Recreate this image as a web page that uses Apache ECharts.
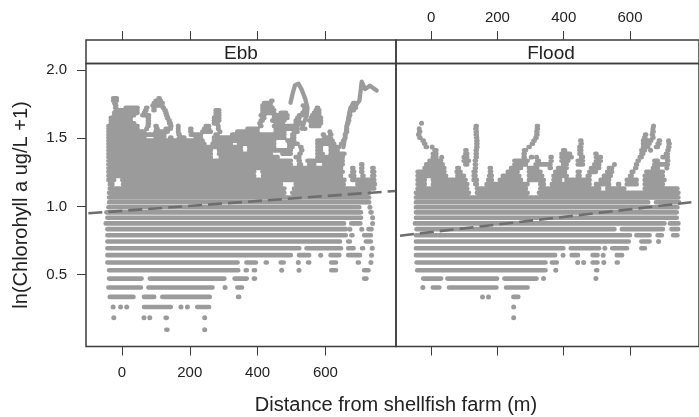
<!DOCTYPE html>
<html><head><meta charset="utf-8">
<style>html,body{margin:0;padding:0;background:#fff}#c{width:699px;height:417px}</style>
<script src="https://cdn.jsdelivr.net/npm/echarts@6/dist/echarts.min.js"></script>
</head><body><div id="c"></div>
<script>
const panels = ["Ebb", "Flood"];
const xTicks = [0, 200, 400, 600];
const yTicks = [0.5, 1.0, 1.5, 2.0];
const yTitle = "ln(Chlorohyll a ug/L +1)";
const xTitle = "Distance from shellfish farm (m)";

// each row: [level, runs of [fromX,toX] or single x readings]
const ebbRows = [
 [0.095,[128,137],244],
 [0.182,-24,65,82,[122,139],244],
 [0.262,-26,-4,14,[58,151],174,193,[215,264]],
 [0.336,[-43,41],[58,102],[112,266],[338,350]],
 [0.405,[-47,63],[71,274],304,[333,361]],
 [0.470,[-45,65],[75,309],[325,375],[382,399],[707,728]],
 [0.531,[-45,350],[358,375],[382,399],471,522,[610,638],[707,734]],
 [0.588,[-50,348],[360,402],[417,434],[461,484],520,[545,556],[610,638],[690,704],734],
 [0.642,[-50,505],[515,559],586,[608,648],[660,709],736],
 [0.693,[-50,530],[537,653],[660,690],[702,717],738],
 [0.742,[-50,650],[660,679],[712,741]],
 [0.788,[-50,667],[672,684],[707,741]],
 [0.833,[-50,667],672,707,[720,743]],
 [0.875,[-55,662],[669,710],739],
 [0.916,[-50,712],739],
 [0.956,[-53,712],[726,743]],
 [0.993,[-47,707],731],
 [1.030,[-45,736]],
 [1.065,[-45,736]],
 [1.099,[-45,486],[495,736]],
 [1.131,[-43,486],[500,751]],
 [1.163,[-43,-21],[-4,476],[505,661],[687,753]],
 [1.194,[-47,-16],[-6,663],[672,751]],
 [1.224,[-47,397],[409,653],[667,692],[704,717],[731,751]],
 [1.253,[-47,397],[407,658],[672,692],[702,712],[731,751]],
 [1.281,[-47,653],[674,687],[702,712],[731,749]],
 [1.308,[-47,505],[515,535],[545,574],[589,658],[704,710]],
 [1.335,[-47,505],[515,530],[540,658]],
 [1.361,[-47,269],[284,466],[505,530],[569,658]],
 [1.386,[-47,269],[279,446],[466,505],[520,530],[569,599],[608,663]],
 [1.411,[-47,269],[279,358],[368,505],[525,535],[569,594],[608,643]],
 [1.435,[-47,358],[368,456],[486,510],[520,535],[569,594],[608,648]],
 [1.459,[-47,250],[260,328],[338,456],[486,525],[569,633],[643,653]],
 [1.482,[-47,245],[264,456],[481,515],[569,628],653],
 [1.504,[-47,73],[92,132],[137,151],[161,191],[210,240],[264,486],[495,515],[589,623],658],
 [1.526,[-47,132],[161,176],[196,240],[269,289],[318,486],[495,515],[589,599],[608,623],658],
 [1.548,[-47,73],[92,142],166,[196,210],[230,269],289,[333,407],[446,486],[500,525],613,663],
 [1.569,[-47,53],73,[94,112],[122,151],166,[196,210],[235,264],284,[363,407],[446,525],[535,543],663],
 [1.589,[-47,53],[73,81],[94,107],[137,151],166,[240,264],284,[402,417],[441,525],[550,589],663],
 [1.609,[-40,43],[73,83],[132,151],[264,289],[402,412],[446,481],[505,540],[550,594],666],
 [1.629,[-40,33],[73,83],[132,146],[264,294],[402,422],[436,486],[505,530],[545,594],669],
 [1.649,[-40,33],[73,83],[127,142],[264,294],[407,427],[441,495],[510,530],[550,594],669],
 [1.668,[-30,43],[53,87],[127,137],[269,294],[402,427],[441,495],[515,540],[554,589],672],
 [1.686,[-30,53],[58,78],[122,137],[269,294],[407,456],[461,491],[525,545],[559,589],672],
 [1.705,[-26,53],[63,78],[87,102],[122,132],[269,294],[407,456],[530,550],[564,589],[677,687]],
 [1.723,[-26,-11],[4,53],[68,78],[87,102],[117,127],[407,451],[535,545],[569,584],[667,697]],
 [1.740,[-26,-11],[83,127],[407,446],[530,540],[672,697]],
 [1.758,[-30,-11],[87,127],[412,446],[677,692]],
 [1.775,[-33,-8],[92,122],[438,446]],
 [1.792,[-33,-8],[107,112]]
];
const ebbTrails = [
 [[497,1.76],[503,1.825],[510,1.887],[520,1.90],[530,1.856],[540,1.792],[547,1.723],[545,1.668],[530,1.57]],
 [[653,1.435],[663,1.589],[672,1.705],[682,1.758],[692,1.75],[700,1.775],[707,1.915],[717,1.86],[731,1.885],[751,1.85]]
];
const floodRows = [
 [0.182,249],
 [0.262,249],
 [0.336,155,173,[241,270]],
 [0.405,-25,[-2,32],[47,204],[219,298]],
 [0.470,[-31,37],[42,206],[214,325],339,497],
 [0.531,[-49,352],376,[492,507]],
 [0.588,[-51,352],[357,386],442,460,[480,509],521,[553,570]],
 [0.642,[-53,381],398,[417,450],[480,509],519,[553,583]],
 [0.693,[-53,406],[414,514],524,[539,598],[627,652]],
 [0.742,[-53,603],[627,666],686],
 [0.788,[-53,607],[612,666],[676,703],[723,750]],
 [0.833,[-51,560],[568,706],[718,752]],
 [0.875,[-56,711],[713,753]],
 [0.916,[-53,748]],
 [0.956,[-53,748]],
 [0.993,[-53,750]],
 [1.030,[-53,662],[671,755]],
 [1.065,[-53,753]],
 [1.099,[-53,121],[131,298],[318,753]],
 [1.131,[-48,116],[131,293],[322,514],[524,590],[637,750]],
 [1.163,[-48,-12],[-2,116],[126,145],[160,298],[322,347],[357,485],[490,544],[558,573],[583,627],[637,706]],
 [1.194,[-48,-12],[-2,111],[121,145],[165,190],[200,278],[288,347],[362,396],[401,485],[504,544],[583,627],[637,711]],
 [1.224,[-48,52],[72,106],[121,141],[168,190],[209,273],[288,342],[362,416],[435,455],[465,485],[514,549],[593,612],[637,706]],
 [1.253,[-48,47],[70,96],[121,141],[170,188],[224,268],[288,337],[367,411],[435,455],[470,504],[524,553],[598,617],[642,706]],
 [1.281,[-27,47],[72,91],[126,141],[175,182],[234,278],[288,327],[352,367],[376,416],[475,514],[529,553],[612,622],[662,691],711],
 [1.308,[-22,42],[96,116],[126,141],[244,293],[308,367],[391,416],[435,465],[485,514],553,[612,627],[666,721]],
 [1.335,[-12,37],[91,121],[126,141],[244,298],[313,332],[357,367],[386,421],[435,465],[490,519],[617,632],[666,691],[706,721]],
 [1.361,[-2,23],32,[91,116],[129,143],[273,288],[298,308],318,[357,367],[386,431],[445,465],[490,519],[622,642],[691,721]],
 [1.386,[-2,23],[96,116],[129,143],[273,288],[386,426],[440,460],[490,504],[627,647],[701,721]],
 [1.411,[3,23],[99,111],[129,143],[273,293],[391,411],[440,460],[627,652],662,[706,723]],
 [1.435,[-17,-12],3,[133,143],[288,303],[440,460],[632,662],[671,691],[711,723]],
 [1.459,[-27,-12],[133,143],[298,313],[445,460],[632,666],[676,696],[713,723]],
 [1.482,[-31,-17],[131,145],[303,318],[445,458],[632,671],[681,696],716],
 [1.504,[-41,-27],[129,145],[308,325],[637,652],[662,676]],
 [1.526,[-44,-31],[129,143],[313,325],[642,652],[662,673]],
 [1.548,[-38,-31],[129,143],[313,325],[666,673]],
 [1.569,-36,[129,141],[316,325],669],
 [1.589,[133,139],[318,323],671],
 [1.609,-29]
];
const ebbFit = [[-99,0.949],[805,1.113]];
const floodFit = [[-94,0.785],[785,1.03]];

const gray = "#9b9b9b", ink = "#222", frame = "#3c3c3c", font = "Liberation Sans";
const penWidth = 4.6, penInset = 7;
function runsOf(rows){const out=[];rows.forEach(r=>r.slice(1).forEach(v=>{if(Array.isArray(v)){
  let a=v[0]+penInset,b=v[1]-penInset;
  if(b-a<3.4){const m=(v[0]+v[1])/2;a=m-1.7;b=m+1.7;}
  out.push([a,r[0]],[b,r[0]],[null,null]);}}));return out;}
function dotsOf(rows){const out=[];rows.forEach(r=>r.slice(1).forEach(v=>{if(!Array.isArray(v))out.push([v,r[0]]);}));return out;}
function trailsOf(ts){const out=[];ts.forEach(t=>{t.forEach(p=>out.push(p));out.push([null,null]);});return out;}

const xr = {min:-106,max:808}, yr = {min:-0.028,max:2.048};
const L=[86,396], W=310;
const grids=[
 {left:L[0],top:63.5,width:W,height:283},{left:L[1],top:63.5,width:W,height:283},
 {left:L[0],top:40,width:W,height:23.5},{left:L[1],top:40,width:W,height:23.5}
].map(g=>Object.assign(g,{show:true,borderColor:frame,borderWidth:1.5,backgroundColor:"transparent"}));
function xAxis(i,pos,labels){return Object.assign({gridIndex:i,type:"value",position:pos},xr,{
 axisLine:{show:false,onZero:false},splitLine:{show:false},
 axisTick:{show:true,length:9,customValues:xTicks,lineStyle:{color:frame,width:1}},
 axisLabel:{show:labels,customValues:xTicks,color:ink,fontFamily:font,fontSize:15,margin:pos==="top"?15:19}});}
function yAxis(i,show){return Object.assign({gridIndex:i,type:"value",position:"left"},yr,{show:show,
 axisLine:{show:false,onZero:false},splitLine:{show:false},
 axisTick:{show:true,length:9,customValues:yTicks,lineStyle:{color:frame,width:1}},
 axisLabel:{show:true,customValues:yTicks,color:ink,fontFamily:font,fontSize:15,margin:19,formatter:v=>v.toFixed(1)},
 name:yTitle,nameLocation:"middle",nameGap:55,nameRotate:90,nameTextStyle:{color:ink,fontFamily:font,fontSize:20}});}
function line(name,i,data,width,extra){return Object.assign({name:name,type:"line",xAxisIndex:i,yAxisIndex:i,data:data,showSymbol:false,symbol:"none",connectNulls:false,silent:true,animation:false,
 lineStyle:Object.assign({color:gray,width:width,join:"round",cap:"round"},extra||{})});}
function dots(name,i,rows){return {name:name,type:"scatter",xAxisIndex:i,yAxisIndex:i,data:dotsOf(rows),symbolSize:5,itemStyle:{color:gray,opacity:1},silent:true,animation:false};}

const chart=echarts.init(document.getElementById("c"),null,{renderer:"canvas"});
chart.setOption({
 backgroundColor:"#fff",animation:false,
 grid:grids,
 xAxis:[xAxis(0,"bottom",true),xAxis(1,"bottom",false),xAxis(2,"top",false),xAxis(3,"top",true)],
 yAxis:[yAxis(0,true),yAxis(1,false),yAxis(2,false),yAxis(3,false)],
 title:[
  {text:panels[0],left:241,top:44,textAlign:"center",textStyle:{color:ink,fontFamily:font,fontSize:19,fontWeight:"normal"},padding:0},
  {text:panels[1],left:551,top:44,textAlign:"center",textStyle:{color:ink,fontFamily:font,fontSize:19,fontWeight:"normal"},padding:0},
  {text:xTitle,left:396,top:395,textAlign:"center",textStyle:{color:ink,fontFamily:font,fontSize:20,fontWeight:"normal"},padding:0}
 ],
 series:[
  line("Ebb rows",0,runsOf(ebbRows),penWidth),
  line("Ebb trails",0,trailsOf(ebbTrails),4.3),
  dots("Ebb dots",0,ebbRows),
  line("Ebb fit",0,ebbFit,2.6,{color:"#6e6e6e",type:[14,6],cap:"butt"}),
  line("Flood rows",1,runsOf(floodRows),penWidth),
  dots("Flood dots",1,floodRows),
  line("Flood fit",1,floodFit,2.6,{color:"#6e6e6e",type:[14,6],cap:"butt"})
 ]
});
</script></body></html>
